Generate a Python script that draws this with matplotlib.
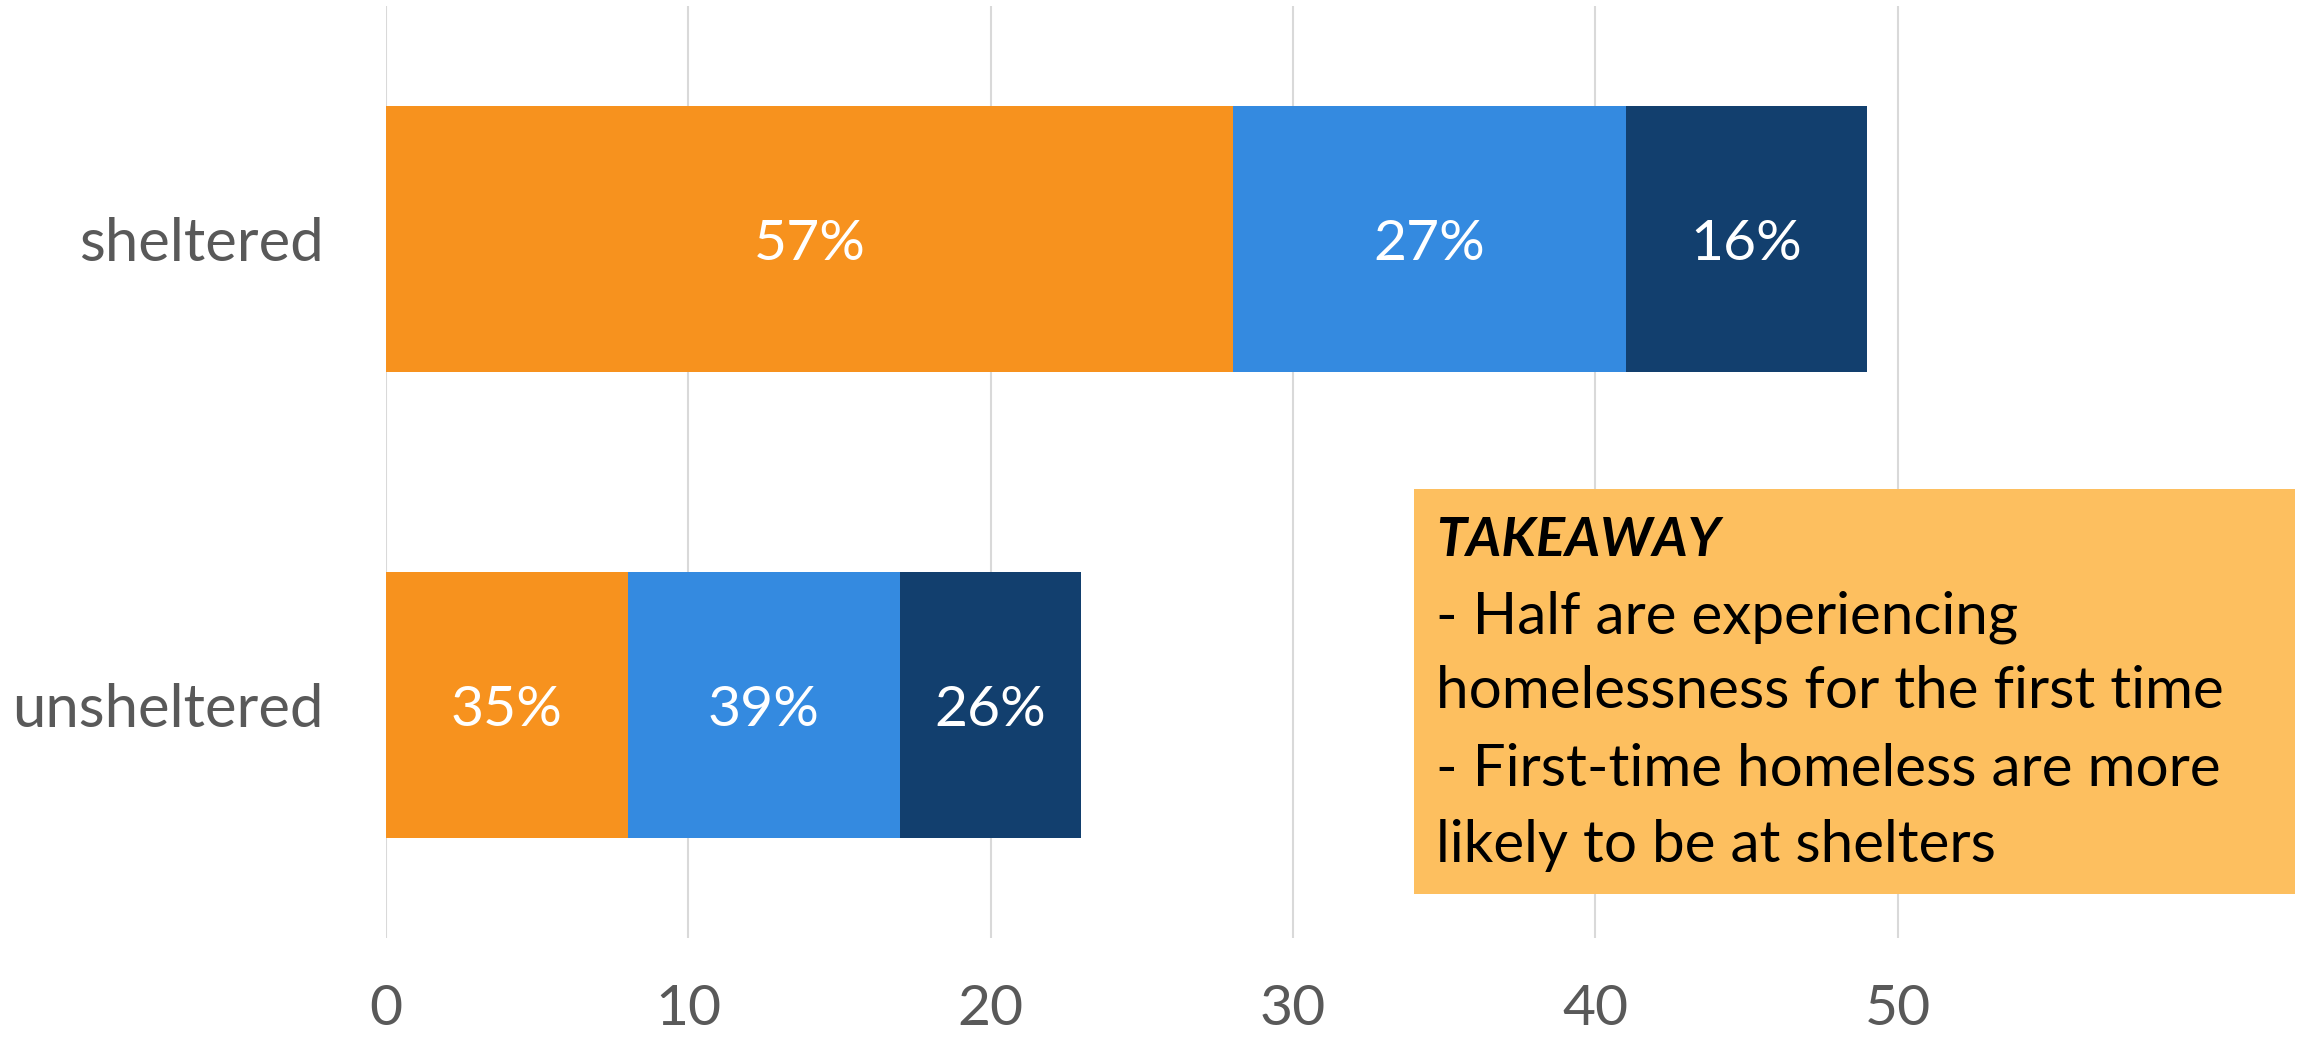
import matplotlib
matplotlib.use("Agg")
import matplotlib.pyplot as plt
from matplotlib.patches import Rectangle

categories = ["unsheltered", "sheltered"]
series_names = ["first time", "second", "third+"]
first_time = [8, 28]
middle = [9, 13]
repeat = [6, 8]
pct_labels = [["35%", "57%"], ["39%", "27%"], ["26%", "16%"]]
xticks = [0, 10, 20, 30, 40, 50]
colors = ["#F7921E", "#348AE0", "#123F6E"]

takeaway_title = "TAKEAWAY"
takeaway_lines = ["- Half are experiencing",
                  "homelessness for the first time",
                  "- First-time homeless are more",
                  "likely to be at shelters"]

FONT = "Lato"
plt.rcParams['font.family'] = [FONT, 'DejaVu Sans']

W, H = 2302, 1044
fig = plt.figure(figsize=(W / 100, H / 100), dpi=100)
ax = fig.add_axes([386 / W, 106 / H, 1814 / W, 932 / H])

ypos = list(range(len(categories)))
left = [0] * len(categories)
for vals, col, labs in zip([first_time, middle, repeat], colors, pct_labels):
    bars = ax.barh(ypos, vals, left=left, height=0.57, color=col, edgecolor="none", zorder=3)
    for b, lab in zip(bars, labs):
        ax.text(b.get_x() + b.get_width() / 2, b.get_y() + b.get_height() / 2, lab,
                ha="center", va="center_baseline", color="white", fontsize=41, zorder=4)
    left = [l + v for l, v in zip(left, vals)]

ax.set_xlim(0, 60)
ax.set_ylim(-0.5, 1.5)
ax.set_xticks(xticks)
ax.set_xticklabels([str(t) for t in xticks], fontsize=41, color="#595959")
ax.set_yticks(ypos)
ax.set_yticklabels(categories, fontsize=43, color="#595959")
ax.tick_params(axis="both", length=0)
ax.tick_params(axis="x", pad=33)
ax.tick_params(axis="y", pad=45)
ax.grid(axis="x", color="#D9D9D9", linewidth=1.5, zorder=0)
ax.grid(axis="y", visible=False)
for s in ax.spines.values():
    s.set_visible(False)

# takeaway box
bx0, by0 = 1414 / W, (H - 894) / H
bw, bh = (2295 - 1414) / W, (894 - 489) / H
fig.patches.append(Rectangle((bx0, by0), bw, bh, transform=fig.transFigure,
                             facecolor="#FDBF5F", edgecolor="none", zorder=5))
tx = 1436 / W
line_y = [540, 617, 691, 769, 846]
fig.text(tx, 1 - line_y[0] / H, takeaway_title, fontsize=39, fontweight="bold",
         fontstyle="italic", color="black", va="center", ha="left", zorder=6)
for ly, line in zip(line_y[1:], takeaway_lines):
    fig.text(tx, 1 - ly / H, line, fontsize=42, color="black", va="center", ha="left", zorder=6)

fig.savefig("out.png", dpi=100)
